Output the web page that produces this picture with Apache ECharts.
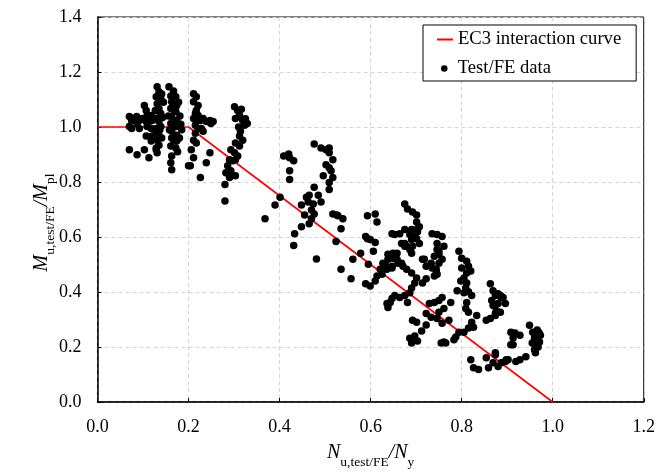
<!DOCTYPE html>
<html><head><meta charset="utf-8">
<script src="https://cdn.jsdelivr.net/npm/echarts@6/dist/echarts.min.js"></script>
<style>html,body{margin:0;padding:0;background:#fff}#c{width:658px;height:474px}</style>
</head><body><div id="c"></div>
<script>
// EC3 interaction curve
const curveX = [0.0, 0.2, 1.0];
const curveY = [1.0, 1.0, 0.0];

// Test/FE data, grouped by cluster [N/Ny, M/Mpl]
const groupLowN = [[0.070,1.038],[0.075,1.024],[0.070,1.002],[0.086,1.038],[0.092,1.024],[0.087,1.013],[0.092,0.995],[0.075,0.995],[0.103,1.078],[0.107,1.060],[0.109,1.042],[0.098,1.031],[0.107,1.020],[0.113,1.020],[0.118,1.042],[0.120,1.024],[0.109,1.002],[0.118,0.995],[0.107,0.967],[0.120,0.967],[0.118,0.949],[0.129,0.995],[0.070,0.917],[0.087,0.899],[0.103,0.917],[0.113,0.888],[0.129,0.917],[0.131,0.906]];
const groupN13 = [[0.131,1.146],[0.135,1.128],[0.129,1.110],[0.139,1.103],[0.131,1.085],[0.135,1.067],[0.139,1.049],[0.129,1.031],[0.135,1.020],[0.139,1.002],[0.129,0.985],[0.135,0.970],[0.131,0.952],[0.135,0.934],[0.129,0.924],[0.137,1.115],[0.133,1.058],[0.137,0.990],[0.141,0.960],[0.127,1.060],[0.143,1.035],[0.145,1.090],[0.141,1.120]];
const groupN17 = [[0.157,1.146],[0.167,1.131],[0.161,1.113],[0.172,1.110],[0.163,1.092],[0.174,1.078],[0.161,1.067],[0.172,1.056],[0.163,1.038],[0.174,1.024],[0.161,1.013],[0.172,1.002],[0.163,0.985],[0.174,0.970],[0.163,0.960],[0.174,0.949],[0.161,0.931],[0.172,0.924],[0.163,0.895],[0.161,0.870],[0.163,0.845],[0.167,1.120],[0.178,1.090],[0.169,1.060],[0.181,1.040],[0.183,1.010],[0.185,0.990],[0.168,0.950],[0.158,0.990],[0.156,1.040],[0.180,0.960],[0.176,0.910],[0.200,0.859]];
const groupN22 = [[0.211,1.121],[0.217,1.110],[0.211,1.092],[0.221,1.078],[0.217,1.060],[0.215,1.049],[0.221,1.042],[0.211,1.031],[0.217,1.020],[0.226,1.024],[0.232,1.031],[0.215,1.006],[0.221,0.995],[0.228,0.995],[0.239,1.020],[0.247,1.024],[0.249,1.013],[0.254,1.020],[0.232,0.985],[0.211,0.952],[0.217,0.942],[0.206,0.917],[0.211,0.888],[0.204,0.859],[0.226,0.816],[0.247,0.906],[0.239,0.870],[0.215,0.977]];
const groupN30 = [[0.301,1.074],[0.308,1.060],[0.312,1.042],[0.303,1.031],[0.319,1.024],[0.323,1.006],[0.314,0.985],[0.312,0.967],[0.319,0.952],[0.303,0.942],[0.312,0.931],[0.293,0.917],[0.301,0.906],[0.308,0.895],[0.290,0.881],[0.297,0.877],[0.303,0.881],[0.286,0.859],[0.293,0.841],[0.282,0.834],[0.290,0.816],[0.303,0.823],[0.280,0.791],[0.329,1.013],[0.280,0.731],[0.316,1.065],[0.325,1.030],[0.310,1.000]];
const groupN45 = [[0.368,0.666],[0.390,0.716],[0.401,0.745],[0.409,0.895],[0.420,0.902],[0.422,0.888],[0.431,0.877],[0.422,0.841],[0.422,0.809],[0.476,0.938],[0.491,0.924],[0.502,0.917],[0.509,0.906],[0.509,0.924],[0.517,0.881],[0.502,0.863],[0.509,0.852],[0.513,0.841],[0.517,0.816],[0.509,0.798],[0.509,0.773],[0.496,0.823],[0.476,0.781],[0.465,0.752],[0.459,0.745],[0.463,0.727],[0.485,0.752],[0.491,0.727],[0.474,0.720],[0.470,0.698],[0.476,0.684],[0.448,0.716],[0.455,0.680],[0.470,0.666],[0.448,0.637],[0.433,0.612],[0.431,0.569],[0.465,0.648],[0.517,0.684],[0.526,0.680],[0.539,0.666],[0.535,0.630],[0.524,0.584],[0.528,0.677],[0.535,0.483],[0.561,0.519],[0.578,0.541],[0.595,0.501],[0.481,0.520],[0.557,0.448]];
const groupN65 = [[0.593,0.677],[0.610,0.684],[0.614,0.655],[0.589,0.602],[0.599,0.591],[0.610,0.580],[0.606,0.548],[0.593,0.594],[0.589,0.430],[0.599,0.422],[0.627,0.505],[0.638,0.537],[0.649,0.541],[0.647,0.487],[0.658,0.519],[0.668,0.505],[0.679,0.483],[0.690,0.469],[0.675,0.720],[0.681,0.702],[0.692,0.691],[0.701,0.680],[0.701,0.655],[0.707,0.637],[0.703,0.619],[0.653,0.609],[0.664,0.612],[0.668,0.576],[0.675,0.566],[0.690,0.541],[0.692,0.566],[0.697,0.602],[0.707,0.576],[0.714,0.519],[0.703,0.630],[0.690,0.627],[0.647,0.612],[0.675,0.627],[0.686,0.609],[0.690,0.591],[0.675,0.576],[0.679,0.566],[0.686,0.555],[0.701,0.594],[0.658,0.541],[0.649,0.523],[0.638,0.519],[0.632,0.501],[0.621,0.483],[0.614,0.458],[0.610,0.440],[0.625,0.465],[0.636,0.483],[0.647,0.494],[0.660,0.505],[0.671,0.494],[0.701,0.451],[0.697,0.433],[0.690,0.415],[0.686,0.397],[0.675,0.387],[0.664,0.380],[0.653,0.387],[0.647,0.376],[0.643,0.362],[0.636,0.358],[0.638,0.344],[0.681,0.362],[0.692,0.297],[0.701,0.290],[0.697,0.240],[0.703,0.222],[0.690,0.215],[0.712,0.258],[0.722,0.280],[0.686,0.232]];
const groupN75 = [[0.735,0.612],[0.746,0.609],[0.757,0.602],[0.761,0.566],[0.746,0.555],[0.740,0.530],[0.750,0.537],[0.757,0.519],[0.733,0.505],[0.718,0.519],[0.722,0.494],[0.735,0.487],[0.744,0.476],[0.740,0.458],[0.722,0.448],[0.714,0.433],[0.746,0.576],[0.750,0.548],[0.750,0.505],[0.744,0.483],[0.746,0.465],[0.729,0.358],[0.740,0.362],[0.750,0.369],[0.757,0.380],[0.776,0.362],[0.761,0.340],[0.750,0.326],[0.722,0.322],[0.733,0.308],[0.746,0.304],[0.757,0.286],[0.772,0.297],[0.761,0.218],[0.755,0.215]];
const groupN80 = [[0.794,0.548],[0.800,0.523],[0.811,0.512],[0.815,0.494],[0.800,0.487],[0.811,0.469],[0.820,0.476],[0.805,0.451],[0.798,0.440],[0.811,0.433],[0.809,0.415],[0.790,0.405],[0.805,0.397],[0.815,0.401],[0.822,0.387],[0.811,0.362],[0.809,0.340],[0.815,0.326],[0.833,0.315],[0.822,0.290],[0.826,0.272],[0.815,0.269],[0.805,0.254],[0.794,0.254],[0.787,0.236],[0.783,0.226],[0.765,0.215]];
const groupN88 = [[0.863,0.430],[0.869,0.405],[0.874,0.387],[0.885,0.387],[0.891,0.380],[0.896,0.358],[0.880,0.358],[0.869,0.351],[0.876,0.333],[0.874,0.315],[0.863,0.304],[0.854,0.297],[0.885,0.326],[0.866,0.369],[0.880,0.394],[0.887,0.380],[0.874,0.322],[0.820,0.154],[0.826,0.125],[0.837,0.118],[0.854,0.161],[0.859,0.125],[0.874,0.172],[0.869,0.143],[0.880,0.129],[0.887,0.143],[0.896,0.147],[0.902,0.154],[0.874,0.179],[0.898,0.154],[0.919,0.147],[0.928,0.154],[0.941,0.165]];
const groupN95 = [[0.949,0.279],[0.956,0.254],[0.962,0.243],[0.973,0.243],[0.960,0.233],[0.971,0.218],[0.962,0.208],[0.960,0.190],[0.962,0.179],[0.908,0.254],[0.917,0.251],[0.928,0.243],[0.913,0.233],[0.913,0.208],[0.908,0.208],[0.966,0.262],[0.970,0.252],[0.955,0.215],[0.968,0.200],[0.966,0.226]];

const xTickLabels = ['0.0','0.2','0.4','0.6','0.8','1.0','1.2'];
const yTickLabels = ['0.0','0.2','0.4','0.6','0.8','1.0','1.2','1.4'];

const scatterData = [].concat(groupLowN, groupN13, groupN17, groupN22, groupN30, groupN45, groupN65, groupN75, groupN80, groupN88, groupN95);
const curveData = curveX.map((x, i) => [x, curveY[i]]);

const FONT = '"Times New Roman", "Liberation Serif", serif';
const nameRich = {
  i: {fontFamily: FONT, fontStyle: 'italic', fontSize: 20, color: '#000'},
  s: {fontFamily: FONT, fontSize: 13.5, color: '#000', padding: [18, 0, 0, 0]}
};

const chart = echarts.init(document.getElementById('c'), null, {renderer: 'canvas'});
chart.setOption({
  animation: false,
  backgroundColor: '#fff',
  grid: {left: 97.5, right: 5, top: 17, bottom: 66, show: true, borderColor: '#000', borderWidth: 1, backgroundColor: 'transparent'},
  legend: [
    {data: [{name: 'EC3 interaction curve', icon: 'rect'}], left: 423, top: 25, orient: 'vertical',
     padding: [5, 15, 32, 14], itemWidth: 16, itemHeight: 2, borderColor: '#000', borderWidth: 1,
     backgroundColor: '#fff', selectedMode: false,
     textStyle: {fontFamily: FONT, fontSize: 18.6, color: '#000'}},
    {data: [{name: 'Test/FE data', icon: 'circle'}], left: 441, top: 59, orient: 'vertical',
     padding: 0, itemWidth: 17, itemHeight: 6.5, selectedMode: false,
     textStyle: {fontFamily: FONT, fontSize: 18.6, color: '#000'}}
  ],
  xAxis: {
    type: 'value', min: 0, max: 1.2, interval: 0.2,
    name: '{i|N}{s|u,test/FE}{i|/N}{s|y}', nameLocation: 'middle', nameGap: 35, nameMoveOverlap: false,
    nameTextStyle: {rich: nameRich},
    axisLine: {lineStyle: {color: '#000', width: 1.5}},
    axisTick: {show: true, inside: true, length: 4, lineStyle: {color: '#000'}},
    axisLabel: {margin: 16, fontFamily: FONT, fontSize: 18, color: '#000',
      formatter: v => xTickLabels[Math.round(v / 0.2)]},
    splitLine: {show: true, lineStyle: {color: '#d4d4d4', type: [4, 3], width: 1}}
  },
  yAxis: {
    type: 'value', min: 0, max: 1.4, interval: 0.2,
    name: '{i|M}{s|u,test/FE}{i|/M}{s|pl}', nameLocation: 'middle', nameGap: 40, nameMoveOverlap: false,
    nameTextStyle: {rich: nameRich, padding: [0, 26, 0, 0]},
    axisLine: {lineStyle: {color: '#000', width: 1.5}},
    axisTick: {show: true, inside: true, length: 4, lineStyle: {color: '#000'}},
    axisLabel: {margin: 16, fontFamily: FONT, fontSize: 18, color: '#000', padding: [6, 0, 0, 0],
      formatter: v => yTickLabels[Math.round(v / 0.2)]},
    splitLine: {show: true, lineStyle: {color: '#d4d4d4', type: [4, 3], width: 1}}
  },
  series: [
    {name: 'EC3 interaction curve', type: 'line', data: curveData, symbol: 'none',
     lineStyle: {color: '#ff0000', width: 1.6}, itemStyle: {color: '#ff0000'}, z: 2},
    {name: 'Test/FE data', type: 'scatter', data: scatterData, symbol: 'circle', symbolSize: 7.5,
     itemStyle: {color: '#000', opacity: 1}, z: 3}
  ]
});
</script>
</body></html>
